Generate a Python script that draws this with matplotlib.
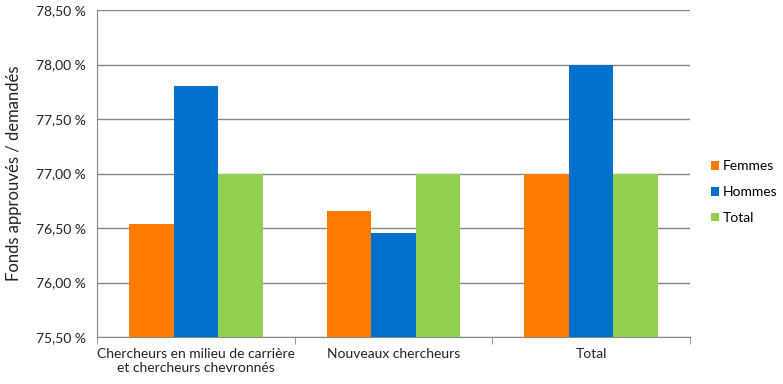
import numpy as np
import matplotlib.pyplot as plt
from matplotlib.ticker import FuncFormatter, FixedLocator

plt.rcParams['font.family'] = ['Lato', 'DejaVu Sans']

categories = ['Chercheurs en milieu de carrière\net chercheurs chevronnés',
              'Nouveaux chercheurs', 'Total']
femmes = [76.54, 76.66, 77.00]
hommes = [77.80, 76.45, 78.00]
total = [77.00, 77.00, 77.00]

series = [('Femmes', femmes, '#FF7C00'),
          ('Hommes', hommes, '#0070CD'),
          ('Total', total, '#92D050')]


def main():
    fig = plt.figure(figsize=(7.83, 3.84), dpi=100)
    ax = fig.add_axes([97 / 783, 47 / 384, 593 / 783, 327 / 384])

    x = np.arange(len(categories))
    w = 0.225
    base = 75.5
    for i, (name, vals, color) in enumerate(series):
        ax.bar(x + (i - 1) * w, np.array(vals) - base, w, bottom=base,
               color=color, label=name, zorder=3)

    ax.set_xlim(-0.5, 2.5)
    ax.set_ylim(75.5, 78.5)
    ax.set_yticks(np.arange(75.5, 78.51, 0.5))
    ax.yaxis.set_major_formatter(FuncFormatter(lambda v, p: f'{v:.2f} %'.replace('.', ',')))
    ax.grid(axis='y', color='#888888', linewidth=1, zorder=0)

    ax.set_xticks(x)
    ax.set_xticklabels(categories, fontsize=10, color='#222222')
    ax.tick_params(axis='x', which='major', length=0, pad=8)
    ax.xaxis.set_minor_locator(FixedLocator([-0.5, 0.5, 1.5, 2.5]))
    ax.tick_params(axis='x', which='minor', length=5, color='#888888')
    ax.tick_params(axis='y', length=0, labelsize=10, labelcolor='#222222', pad=8)

    for s in ['top', 'right']:
        ax.spines[s].set_visible(False)
    for s in ['left', 'bottom']:
        ax.spines[s].set_color('#888888')

    ax.set_ylabel('Fonds approuvés / demandés', fontsize=12, color='#222222', labelpad=10)

    fig.legend(loc='center left', bbox_to_anchor=(708 / 783, 0.5), frameon=False,
               fontsize=10, handlelength=0.6, handleheight=0.6, handletextpad=0.25,
               labelspacing=1.0, borderaxespad=0, borderpad=0.2)

    plt.savefig('out.png', dpi=100)


if __name__ == '__main__':
    main()
